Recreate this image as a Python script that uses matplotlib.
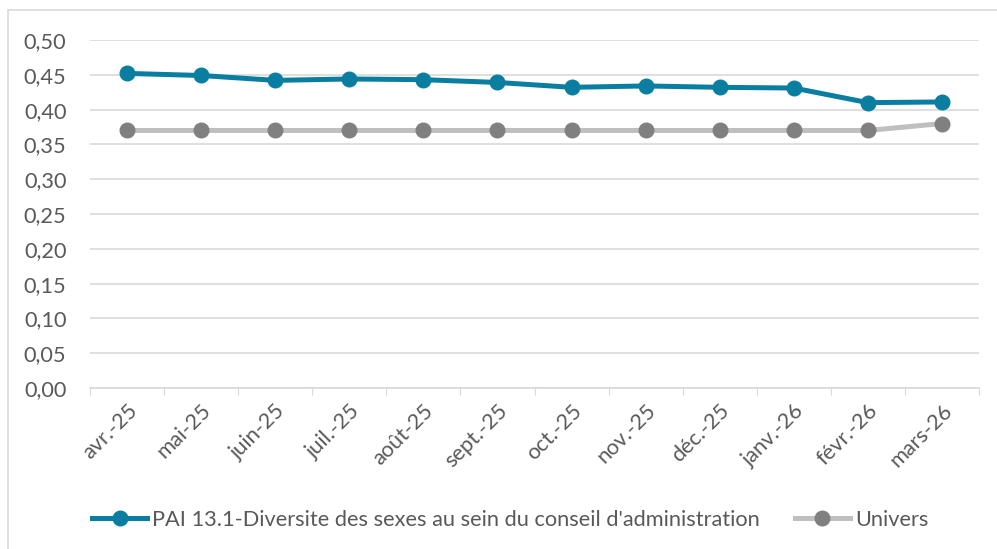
import numpy as np
import matplotlib.pyplot as plt
from matplotlib.patches import Rectangle

months = ['avr.-25', 'mai-25', 'juin-25', 'juil.-25', 'août-25', 'sept.-25',
          'oct.-25', 'nov.-25', 'déc.-25', 'janv.-26', 'févr.-26', 'mars-26']
pai_values = [0.452, 0.449, 0.442, 0.444, 0.443, 0.439, 0.432, 0.434, 0.432, 0.431, 0.410, 0.411]
univers_values = [0.37, 0.37, 0.37, 0.37, 0.37, 0.37, 0.37, 0.37, 0.37, 0.37, 0.37, 0.38]
y_ticks = np.arange(0, 0.501, 0.05)

plt.rcParams['font.family'] = ['Lato', 'DejaVu Sans']

fig = plt.figure(figsize=(9.97, 5.49), dpi=100)
fig.patch.set_facecolor('white')

# light frame around the chart (only top and left visible in the crop)
fig.patches.append(Rectangle((8 / 997, -0.1), 1.2, 1 - 10 / 549 + 0.1,
                             transform=fig.transFigure, fill=False,
                             edgecolor='#d9d9d9', linewidth=1.2))

ax = fig.add_axes([90 / 997, 1 - 388 / 549, (979 - 90) / 997, (388 - 40) / 549])
x = np.arange(len(months))

ax.plot(x, univers_values, color='#bfbfbf', linewidth=3.6, marker='o',
        markersize=10.5, markerfacecolor='#808080', markeredgecolor='#808080',
        label='Univers', zorder=3)
ax.plot(x, pai_values, color='#0a7ea0', linewidth=3.6, marker='o',
        markersize=10.5, markerfacecolor='#0a7ea0', markeredgecolor='#0a7ea0',
        label="PAI 13.1-Diversite des sexes au sein du conseil d'administration", zorder=4)

ax.set_xlim(-0.5, len(months) - 0.5)
ax.set_ylim(0, 0.5)
ax.set_yticks(y_ticks)
ax.set_yticklabels([f'{v:.2f}'.replace('.', ',') for v in y_ticks])
ax.grid(axis='y', color='#d9d9d9', linewidth=1.2)
ax.set_axisbelow(True)

ax.set_xticks(np.arange(-0.5, len(months), 1), minor=False)
ax.set_xticklabels([])
ax.set_xticks(x, minor=True)
ax.set_xticklabels(months, minor=True, rotation=45, ha='right', rotation_mode='anchor')
ax.tick_params(axis='x', which='major', length=5, color='#d9d9d9')
ax.tick_params(axis='x', which='minor', length=0, pad=9, labelsize=15.7, labelcolor='#595959')
ax.tick_params(axis='y', length=0, pad=17, labelsize=15.7, labelcolor='#595959')

for side in ['top', 'right', 'left']:
    ax.spines[side].set_visible(False)
ax.spines['bottom'].set_color('#d9d9d9')
ax.spines['bottom'].set_linewidth(1.2)

handles, labels = ax.get_legend_handles_labels()
fig.legend(handles[::-1], labels[::-1], loc='center', bbox_to_anchor=(0.512, 1 - 520 / 549),
           ncol=2, frameon=False, fontsize=15.7, labelcolor='#595959',
           handlelength=2.5, handletextpad=0.25, columnspacing=1.6)

fig.savefig('out.png', dpi=100)
